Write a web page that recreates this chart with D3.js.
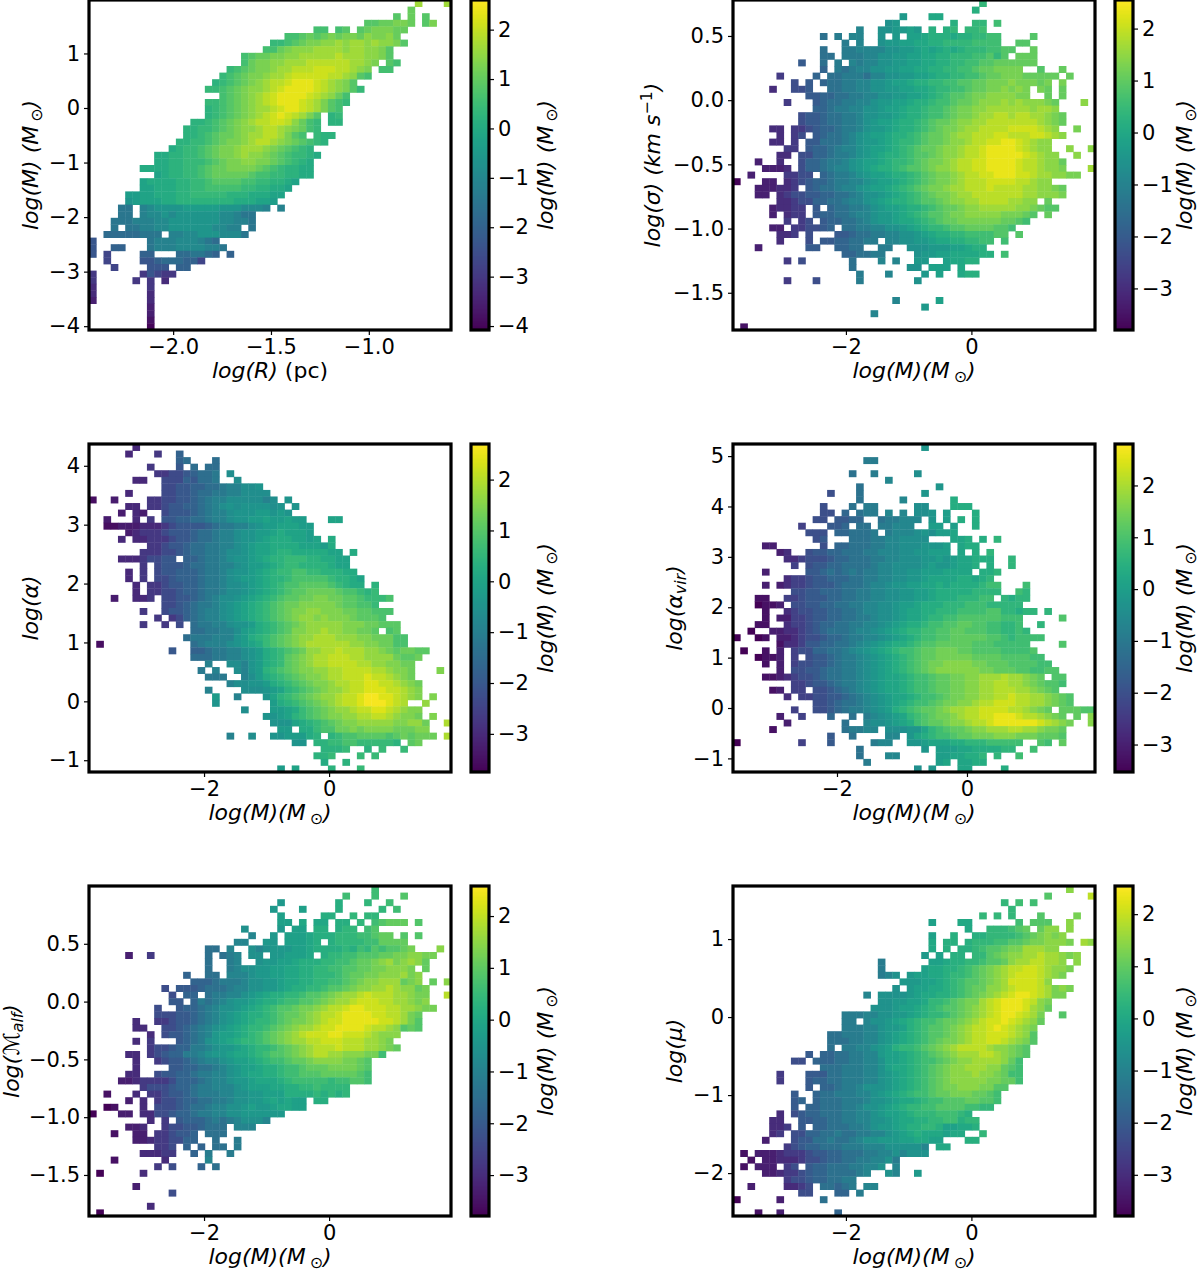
<!DOCTYPE html>
<html><head><meta charset="utf-8">
<script src="https://cdn.jsdelivr.net/npm/d3@7/dist/d3.min.js"></script>
<style>html,body{margin:0;background:#fff}svg{display:block}text{font-family:"DejaVu Sans";fill:#000}</style>
</head><body><svg id="c" width="1200" height="1271"></svg>
<script>
// Letter -> log value of a bin, as read against the colour bars
const levelLetters = "abcdefghijklmnopqrstuvwxyzAB";
const levelValues = [-4,-3.75,-3.5,-3.25,-3,-2.7,-2.3,-2,-1.75,-1.45,-1.15,-0.9,-0.6,-0.4,-0.2,0,0.2,0.4,0.6,0.85,1.05,1.25,1.45,1.65,1.9,2.1,2.35,2.6];

// Every row (top to bottom) lists "firstColumn:binLetters" runs.
const rowsRadiusMass = [
"45:x 49:x","44:u","42:t 44:u 46:t","38:ttuuvvu 46:tv","31:ss 34:st 37:tuvvvuu","27:sstutuvuvvuwvvwu","25:rrstuvvwwxwxxwxwwvt","24:ssuvwwwxxxxwxxwwvt","21:stuuvvwwxxxxxyxxxwwvt","21:suvvwwxxxyyyyyyxxwv 41:ts",
"19:rstuvvwxxyyyzzzyyxwv 40:ss","18:rstuvvwxxyzzzzzyyxwts","17:qrstuvwxyyzAAAzyxwvt","16:rr 18:stuvwwxyzAAAAzyxwvt 37:r","18:stuvwxyzAAAAzyxwus","16:rrstuvwxyzAAAzyxvtsr","16:qrstuvwxxyzAAzyxvts","16:qrstuvwxyzAzyxvt 33:qr","14:qqrstuvwxyyzzywusr 33:qq","13:qqrrstuvwwxyyxwvusr",
"13:qqrstuuvwxxyyxvts 31:rqq","12:qqrrstuvvwxyyxwvutsrq","11:pqrrstuvvwxxxwvutsrq","9:ppqqrrstuvvwxwwvutsrrqp","9:ppqqrrrstuvvwwvvutsrqp","7:ppppqqrrstuuvvvvutsrqqpp","9:opqqrrstuuuuutssrrqqpp","7:oppppqqrrsttttssrrqqpo","7:oopppqqrrsssssrrqqppo","5:nnoopppqqrrrrrqqqpppoo",
"5:mnoooppqqqqqqqqpppoon","4:jj 7:klmmmmnnnnnmmmlllk 26:k","4:jj 7:kllmlmmmmmmllkjj","3:jjjkkkllmmmmmmmllkkj","3:j 5:jjkkllmmmmmmllkk 22:j","2:iiiiijjj 11:kkllmmmlllj","0:g 8:jkkklllkji","0:g 3:hh 8:jkkkllllkkj","0:g 2:f 7:hh 12:iijjih 19:h","2:f 7:gghiiihhf",
"3:f 8:ggg 12:hh","0:e 7:egfee","0:e 6:e 8:e 10:d","0:d 8:e","0:d 8:d","0:c 8:d","8:c","8:c","8:b","8:a"];

const rowsMassSigma = [
"34:r","33:q","23:n 27:pp","21:mn 30:q 33:rr 36:s","17:l 20:mmnnon 27:q 29:qr 32:rrs","12:j 14:k 16:ll 20:m 22:n 24:oopqqqpqqrrss 41:t","15:k 17:l 20:mnnooppqqrrrrssss 39:tt","12:j 15:kkllllmmnnopopqpqrrrsstt 41:u","12:jj 15:kkkllmmnnooppqqrrrsstrt 39:uuu","9:h 12:j 14:k 16:lkllmmnnooppqqrrssttuuuuuu",
"12:i 14:kjkllmmnnooppqqrrsstuuvvvv 42:t 45:u","6:f 11:i 13:jjkkkjllmmnnoopqqrrsstuuvvvuuuuu 46:u","8:g 10:h 12:ijjkkllmmnoopqqrrssttuuvvvwvvvuv 45:v","5:e 8:ggh 13:jjkkllmmnnooppqrrsstuuvvwvwv 42:vu 45:u","10:hhiijjkkllmmnnoopqrsttuvvwwwwvv 43:u 45:u","7:f 11:hijjkkllmnnoopqqrsstuuvwwwxwxwwwvu 48:w","11:iijkkllmmnoopqqrsstuvvwwxxxxxxwxxw","9:ghhijjkklmmnnopqqrsstuvvwxxyyxyyxxwvu","9:ghhijjkklmnoopqqrstuuvwwxxyyyyyyyxwvu","5:ee 8:ffghiijkklmnnopqqrstuvvwxxyyyyzzzzyxw 47:v",
"6:e 8:fg 11:hijjklmnoopqqrstuuvwxxyyyzzyyyzzyxw","5:ee 8:f 10:hhjjjklmnnopqrrstuuvwwxyyzzAAzyxww","7:ff 10:hiijkllmnoopqrstuuvwwxyyzAAAAzyxww 46:w 49:w","6:ee 9:ggiijkklmnopqqrsttuvwwxyyzAAAAAzyxww 47:w","3:d 6:e 9:giijkklmnoopqrrstuvvwxyyzzAAAAzyyxwwu","4:ddde 9:giijkllmnopqqrsttuvwwxyyzzAAAAzyyxwwv 49:x","2:d 7:ffgg 12:ijkklmnoopqqrstuvvwxyyzzAAAzzyxxwwvv","0:b 4:dd 7:efghiijkkllmnoopqrstuvvwxyyyzzzzyyxww","3:ddd 6:ee 8:f 10:hijjkllmnoopqrstuvvwxxyyyzyyyyxxwwvu","3:dd 6:efgghhiijjklmmnopqrstuvvwxxyyyyyyyxxwww 45:v",
"6:eefggiijjkllmnopqqrsttuvwwxxyyyyxxww 43:u","5:deeff 11:h 13:ijjkklmnoopqqrstuuvwwxxxxxwwvu 43:tt","5:d 7:eff 11:hiijjkllmnnopqrsttuvvwwwwwvvvut 43:u","7:f 9:fg 12:hiijjklmnnoppqrstuuvvvvvvuuts","5:dd 8:ffggh 13:i 15:jjkkllmmnopqrrsttuuuutts","6:eef 10:g 14:hhijjkkllmmnopqqrrsssstt 39:t","6:e 10:g 12:hhiijjkk 21:llmmnnoppqqrrss 37:s","3:d 10:hh 14:iijj 20:kk 24:mmmnnnoopqq","15:iijjkk 25:mnnooppppqq 37:s","7:f 9:g 16:j 20:l 22:l 25:nn 29:oppqq",
"16:j 24:mm 27:ooo 31:p","17:k 21:l 26:n 28:o 31:pqq","7:f 11:g 17:k 25:m","","","22:l 28:o","26:n","19:l","","1:c"];

const rowsMassAlpha = [
"6:e","5:e 9:f 12:i","12:ij 17:j","8:f 12:h 14:j 16:jj","9:ffgghijjk 19:m","6:ee 10:gggihjjk 20:m","10:gghhiijjkllmmn","5:e 10:gghhijjkkllmmmm","0:c 3:d 8:ffgghhijkllmmmmmlm 27:n","5:ee 8:ffghhiijklmnmnnnnmn 28:n",
"4:d 6:ed 10:ghhhijkllmnnnoonon","2:d 6:e 8:f 10:hhiijjkllmnnoopoopoo 33:pp","2:ccdddeeefghhhhijkkllmnoopppoo","5:defffghhhijjkllmnnoopqpppo","4:e 6:eefffghhijjkllmnnopqqqppop 33:q","8:ffghhijjkkllmnoppqqqqpppoq","7:fffgghijjkklmmnoppqrrqqqqqpp 36:q","4:eee 7:fgg 10:hh 13:iijkklmnnopqrrsssrrqqpp","7:f 9:ghhhijjkkllmnoopqrssrrrrqpp","5:e 7:f 9:ghhiiijkklmnnopqrssttssrrrqq",
"5:e 7:f 9:gghiiijkklmnoopqrrstttttsrrqp","6:e 8:ffghhiijkklmmnopqrsttuuuutsrqq 39:r","6:e 8:ff 10:gghiijkklmmnopqrstuuvvvvuttsrs","3:d 6:eef 10:gghhijklmmnopqrstuuvvwwvvuutssst","10:gghijkklmnopqrstuvvwwwwwvuutts","7:f 10:ghhijkllmnopqrstuvwwxxwwwvvuuttt","9:f 11:fgijkllmnopqrstuvwxxwxwwwvuuut","7:f 10:f 12:g 14:jkkllmnnoqrstuvwxxxxxwwwvvuuu","14:jjkkllmopqrstuwwxxyxxwwvvu 41:tu","13:jkkklllnoqrstuvwxxyyyxxxwwvvvtt",
"1:c 14:jklllmnopqstuvwxyyyyyyxxwwvvtt","11:h 14:iijkkllmnoqrstuvxxyyzyyyxxwvuvvuu","14:jjjkkllmnoqrsuvwxyyzzzyyxxxxvuuv","16:l 19:mmlnoqrsuvwxyyzzzzyyxxwwvv","15:k 17:l 20:ml 22:norstuvwwxxyyzzzzyyxwwv 48:w","16:kkk 21:lmoqrstuvwwxyyzzzAzzyxwv","19:lmmnnoqrstuvwwxyyzzAAzzyxwv","16:l 21:mmmnoprstuvwxxyzzAAAzzyxw","17:o 20:l 24:nprstuvwxxyzzABBAAzyxw 47:w","17:n 25:oqrstuvwxyzzABBBAzy 46:x",
"21:m 25:oopqstuvwxxyzzAAzyxww","24:n 25:noprstuvwwxxyyzzyxwwv 47:w","25:nnnpqrstuvwwxxxxxwwxxv 49:y","26:oo 29:qqsttvvwvwwwwvvvww","19:l 22:m 25:nnoooqr 33:rsttuuuutuvuvvv 49:y","28:nn 31:rrssttsssssr 44:uv","32:rrrs 38:r 40:s 43:s","31:rrs 37:s 39:s","32:q 35:r","26:o 28:p 33:r 37:s"];

const rowsMassVirial = [
"26:o","","18:ll","","16:k 19:l 25:n","21:m","17:k 28:o","13:h 17:k 26:o","17:k 23:m 30:r","12:h 16:k 18:ll 25:nn 30:rrr",
"12:hh 15:j 17:kll 21:m 23:m 25:nno 29:p 33:r","11:hh 14:iijj 20:kllmmm 27:o 29:p 31:r 33:r","9:g 13:iij 17:kk 20:llmmm 27:pp 30:p 33:r","10:hhh 14:jjkkkl 21:lmmmnon 28:ppq","11:hi 16:kkkllmmnnnn 30:qqr 34:r 36:s","4:ee 12:h 14:jjkkkllmmnnnooop 31:qrr","6:ef 10:hiijjkkkllmmmnnooppp 31:q 33:r 35:s","7:ffghhhijjkkkllmmnnnoopopqqrr 35:r 38:s","8:g 10:hiijjkkkklmmnnnnopoopqqr 35:r 38:s","4:e 10:iijkjklkllmmnnoopppqqqq 34:rrs",
"7:fgghiijjjkkllmmnnoopqqqqrrqrs","4:e 6:efgghiiijkkklmmnooppqqrqrrrrstt 40:t","8:hhiijjjkkllmmnnooppqrrrrrssss 39:ts","3:dd 7:gg 9:hiiijjkkllmmnnooppqrrrssstt 37:srs 40:s","3:cdde 8:hhiijjkkllmmnnoppqrrrssstttsssss","4:d 7:fghhiijjkklmmnnopqqrrsssttttuussrss 43:s","4:d 6:eegghiijjkkllmnnopqqrssttuuuuuuttt 45:u","3:dd 7:fgghijjkkllmmnopqrrsttuuvvuuttsst 42:s","2:c 5:eeffghijkkklmmnopqrssttuuvvuuuttssts","0:b 3:cd 6:eefghhijjkllmmnopqrsttuuvvvvvuutstttt",
"6:dffgiijjkklmnopqrrstuuvvvvvuuuttttt 45:u","1:c 4:d 6:e 8:ghhjjkklmnopqrsttuvvwwwvvuuuuttttu","3:cdde 8:g 10:hiijkllmnopqrstuvvwwwwwvvvvuuuutt","4:d 6:e 8:ghhiijkllmnopqrstuvwwxxxxwwvvvuuuutt","6:e 8:hhiijkkllmnopqrstuvwxxxxxxwwvvvuuttuu","4:dde 7:fghhijkkllmnopqqrsttuvvwwxxyyyzyyxwv 44:uu","8:gghiijkllmnopqqrsttuvvwwxxyyzzyyxwvu 44:ut","5:de 8:gg 11:hhijklmnopqqrsttuvvwwxxyyzzzyyxwvu","7:f 9:gg 11:hhiijklmnopqqrsttuvwwxxyyzzAzzyyxwvu","11:hhijkklmnopqrsttuvwwxxyzzAAAzzyyxwvu",
"8:g 11:hhijkllmnoprstuvvwxyyzzAAAAzzyxwv 45:vvvuu","6:e 9:g 13:j 16:k 18:lmnopqstuvwwxyzzAABBBAzzyxwv 47:v 49:x","7:e 15:k 18:mnnopqrtuvvwxxyzzABBBBBBAzyxw 49:x","5:d 15:kllmm 21:nnnooqstuvvwxxyyyzzyyxwwv","13:i 16:k 21:mm 24:oqrsttuvvwwwxxxwwwvvvu","0:b 9:g 13:i 19:lmm 24:oopqqqrrsssttttt 42:ut 45:v","17:k 26:o 28:pppqqrrrrss 41:t","17:k 21:mm 28:ppqqrrs 36:s 39:t","18:l 28:pq 31:qqrr","25:n 27:o 31:qq 37:r"];

const rowsMassMach = [
"39:s","35:s 39:s 43:t","26:n 34:q 38:r 41:s","25:n 29:o 34:q 40:r 42:s","26:o 32:qq 36:r 38:rr","26:oo 29:p 31:pp 34:qq 37:r 39:stuuu 45:t","21:m 26:n 28:oo 31:qq 34:qrr 38:st","22:l 25:n 27:ooopqqq 34:rrrsstuu 43:t 45:t","20:ll 24:nn 27:ooopq 33:qrrrrssuuuu","16:jj 19:l 22:mlmnnnoopqqqqrqsrtsttuv 48:w",
"5:d 8:f 16:j 18:jkl 22:mm 25:nnooop 32:qrrsstttuuvvwwvv","16:j 19:kl 23:mnnoopqqqrrsstuuvwxvwx 45:wu","16:j 19:klmmnnooppqqrrssttuuvvwwwv 46:u","13:i 16:jj 19:lllmnnooppqqrrrstuuvvwwwxvw","14:iiijkkklmmnnoppqqrrsstuvwwxxxuvw 47:u 49:w","10:g 12:hhhijjjkllmmnnopqqrrsttuvwwxxyxwwuv","11:g 13:ii 16:jkkllmnopqqrrsttuvwxxyzyyyxxwvv 49:y","11:hh 14:ikjklmnnopqqrssttuvwxxyzzzyyxxwvw","9:g 12:hiijklmmnopqrsttuvvwxyyzAAzzzyyxxwvv","9:ggghhijklmnopqqrstuuvwxyyzAAAAzzyyxvu",
"6:e 9:ffghhijklmnopqrrstuvvwxyzzAAAAAzzyxvt","6:ee 10:gghijklmnopqrrstuvwxxyzzAAAAzyyxwtut","8:e 10:ghhijklnoopqrstuvwxyzzzAAzzzyxwww","6:e 8:f 12:hijkmnopqrrstuvwxxyyzzzyyyxxwv","8:fgghiikklmnnopqrrstuvwxyyyzyyyxxwvu","5:ee 8:fghiikklmnnoppqrsttuvwxyyxxwwwvvs","6:e 9:fghhijkllmnoopqrsstuuvwwwwvvut","6:e 11:hhiijjklmnoopqqrsstuuuvvvvut","5:ee 9:ghhiijkkllmnoppqqrsstttuuuuuts","4:ddef 8:fffgiiijkllmnnopppqrsssssrsstts",
"7:fggghiijkklllmnoooppqqrrsrrrr","2:c 6:e 8:ffghhijkkkllmmnnoooqqqqrqrqr","5:d 7:e 9:fgghiijjkklmmnnopopoo 31:qq","2:bc 7:e 9:ggghijjkllmmnonnoppoo","0:b 4:dd 7:eegghiijkkllmmnnnnnn","8:e 10:f 12:h 13:iiijkjklmmml","5:dde 10:fgghhijjj 20:lll","3:c 6:dd 9:ffghhi 16:jjj","6:ddeffggii 17:j 20:k","9:ffg 13:i 15:i 17:jj 20:k",
"7:eeeff 14:i 16:k 19:k","3:c 10:e 16:l","9:f 11:g 15:i 17:j","1:b 7:e","","6:d","11:g","","8:e","1:b"];

const rowsMassMu = [
"46:w","43:t 49:y","37:r 39:s 41:s","38:r","34:r 36:r 38:r 42:t 47:v","27:o 31:pp 39:s 41:ttt 46:w","32:p 35:rrrs 39:tu 42:uww 46:w","27:o 30:q 33:qqrrrrstuvwvw","27:p 29:qq 32:qrrrssttuvvwwwv 48:xw","27:p 29:q 31:qqrsttuvvxxxww",
"26:n 28:o 30:qq 33:rrtuvwwxxyxxwvw","20:k 27:oopqqrrsttuwxxyyxxw 47:w","20:k 26:oppqqrstuvwxyyzzyxwwv","20:klm 24:nooppqrrstuvwxyzzzyxwv","23:nnnoopqrsttuvwxzzzzyw","22:m 24:nooppqrstuuwwxyzzzyxvwv","18:l 20:mmmmnoppqqrstuvwxyzAAzyxvv","20:mmnnooprrstuvvxyzAAAzywv","19:mmmnoopqrsttuvwxyzAAAzxwu","15:kkkllmmnnopqrrstuvwxyzAAzyxv 45:t",
"15:kk 18:lmmnopqrsstuuvwxyzzAzyxwu","15:kkkllmnnoqrsttuvwxyyzAzyxwv","13:jjkkkllmnopqrsttuvwxyyzzzyxwt","13:jjjkkllmnopqrstuvvwxyyzzyxwvt","13:j 15:kkllmnoqrrstuvwxyyyyxwwvut","10:h 12:iijjkkllnoopqrstuvwxxxyyxwvut","8:gg 11:i 12:iijjkkllmoopqrsstuvwwxxxxwus","12:jjjkkkllmoppqrstuvwwxxxwwuts","6:f 10:hhhjjkkkllmnopqrstuvwwwxwwvuss","6:f 10:hiijjkkkllmnopqrstuvwwwwwvvuus",
"10:h 12:iijkklmmmnopqrstuvvwwwvvtt","8:h 11:ijjkkkllmnopqrsstuuvvvuuts","8:hi 11:ijjjkkklmmnoppqrsstttuutts","8:h 10:iijjjkklmmnopqrrssttttssrr","6:e 8:ghiijjjkkllmnoopqrrrsssrq","5:ee 9:hhiijjkkllmmnoppqqrrssqrr","5:eef 9:h 11:iijjjkklmnnopqqrrqoopp 33:q","5:ef 8:ggiijjkjjkkllmnopqpppopp 34:r","4:d 8:ghhjjkjjklmmnnnooppoo 32:qq","7:fghiijjjkkklllmmmmml 28:pp",
"1:c 3:dddefffghhiijjjkkllmlmmm","2:c 4:ddeeefgghiijjkkllmk","1:c 3:ddd 7:fg 10:hiijjjkkllm 22:l","4:dde 7:ffghiijjjjkl 21:ml 25:n","7:fgg 10:hiijjkk","2:d 7:eefg 12:jjijk 18:ll","9:gg 14:ii 17:k","0:b 6:d 12:j","","3:c 6:d 14:i"];

// Axis limits and tick labels
const xTicksRadius = [-2,-1.5,-1], xTicksMass = [-2,0];
const colorTicks1 = [-4,-3,-2,-1,0,1,2], colorTicksRest = [-3,-2,-1,0,1,2];
const panelRows = [rowsRadiusMass,rowsMassSigma,rowsMassAlpha,rowsMassVirial,rowsMassMach,rowsMassMu];
const xDomains = [[-2.43,-0.58],[-3.8,1.97],[-3.84,1.95],[-3.6,1.97],[-3.84,1.95],[-3.8,1.97]];
const yDomains = [[-4.07,1.98],[-1.79,0.78],[-1.2,4.37],[-1.27,5.24],[-1.855,1.0],[-2.55,1.68]];
const colorDomains = [[-4.08,2.6],[-3.8,2.55],[-3.75,2.7],[-3.53,2.8],[-3.79,2.58],[-3.79,2.54]];
const yTickLists = [[-4,-3,-2,-1,0,1],[-1.5,-1,-0.5,0,0.5],[-1,0,1,2,3,4],[-1,0,1,2,3,4,5],[-1.5,-1,-0.5,0,0.5],[-2,-1,0,1]];
const xTickLists = [xTicksRadius,xTicksMass,xTicksMass,xTicksMass,xTicksMass,xTicksMass];
const colorTickLists = [colorTicks1,colorTicksRest,colorTicksRest,colorTicksRest,colorTicksRest,colorTicksRest];
const massLabel = [["log(M)(M",1],["\u2299",0,"sub"],[")",1]];
const massLabelSpaced = [["log(M) (M",1],["\u2299",0,"sub"],[")",1]];
const xLabelParts = [[["log(R)",1],[" (pc)",0]],massLabel,massLabel,massLabel,massLabel,massLabel];
const yLabelParts = [
 massLabelSpaced,
 [["log(\u03C3) (km s",1],["\u22121",0,"sup"],[")",1]],
 [["log(\u03B1)",1]],
 [["log(\u03B1",1],["vir",1,"sub"],[")",1]],
 [["log(\u2133",1],["alf",1,"sub"],[")",1]],
 [["log(\u03BC)",1]]];
const fmtTickOneDecimal = [false,true,false,false,true,false];
const xOneDecimal = [true,false,false,false,false,false];
const yLabelBase = [38,660,38,682,19,682];
const cbLabelBase = [553,1192,553,1192,553,1192];
const colLeft = [89,733], rowTop = [0,444,886], rowBottom = [330,772,1216];
const plotW = 362, cbGap = 20, cbW = 18, nBins = 50, tickFont = 21, labelFont = 22;

const svg = d3.select("#c");
const cmap = d3.interpolateViridis;
const valueOf = d3.scaleOrdinal(levelLetters.split(""), levelValues);
function parseRow(str, r){
  const out=[];
  str.split(" ").filter(Boolean).forEach(run=>{
    const [c,letters]=run.split(":");
    letters.split("").forEach((ch,i)=>out.push({col:+c+i,row:r,v:valueOf(ch)}));
  });
  return out;
}
function addParts(t, parts, size){
  let prev=0;
  parts.forEach(p=>{
    const shift=p[2]==="sup"?-8:p[2]==="sub"?4:0;
    const s=t.append("tspan").text(p[0]).attr("font-style",p[1]?"italic":"normal")
      .attr("font-size",shift?size*0.72:size).attr("dy",shift-prev);
    if(p[0]==="\u2299") s.attr("dx",4);
    prev=shift;
  });
}
panelRows.forEach((rows,k)=>{
  const left=colLeft[k%2], top=rowTop[Math.floor(k/2)], bottom=rowBottom[Math.floor(k/2)], right=left+plotW;
  const x=d3.scaleLinear().domain(xDomains[k]).range([left,right]);
  const y=d3.scaleLinear().domain(yDomains[k]).range([bottom,top]);
  const bx=d3.scaleBand().domain(d3.range(nBins)).range([left,right]);
  const by=d3.scaleBand().domain(d3.range(nBins)).range([top,bottom]);
  const color=d3.scaleSequential(cmap).domain(colorDomains[k]);
  const cells=rows.flatMap(parseRow);
  svg.append("g").selectAll("rect").data(cells).join("rect")
    .attr("x",d=>bx(d.col)).attr("y",d=>by(d.row))
    .attr("width",bx.bandwidth()+0.4).attr("height",by.bandwidth()+0.4)
    .attr("fill",d=>color(d.v));
  const ax=svg.append("g").attr("transform",`translate(0,${bottom})`)
    .call(d3.axisBottom(x).tickValues(xTickLists[k]).tickSize(5).tickPadding(4)
      .tickFormat(d3.format(xOneDecimal[k]?".1f":"d")));
  const ay=svg.append("g").attr("transform",`translate(${left},0)`)
    .call(d3.axisLeft(y).tickValues(yTickLists[k]).tickSize(5).tickPadding(4)
      .tickFormat(d3.format(fmtTickOneDecimal[k]?".1f":"d")));
  [ax,ay].forEach(g=>{g.select(".domain").remove();
    g.selectAll("text").attr("font-size",tickFont).attr("font-family","DejaVu Sans");
    g.selectAll("line").attr("stroke","#000").attr("stroke-width",1.2);});
  svg.append("rect").attr("x",left).attr("y",top).attr("width",plotW).attr("height",bottom-top)
    .attr("fill","none").attr("stroke","#000").attr("stroke-width",3.2);
  // axis titles
  const xt=svg.append("text").attr("x",(left+right)/2).attr("y",bottom+48).attr("text-anchor","middle");
  addParts(xt,xLabelParts[k],labelFont);
  const yt=svg.append("text").attr("text-anchor","middle")
    .attr("transform",`translate(${yLabelBase[k]},${(top+bottom)/2}) rotate(-90)`);
  addParts(yt,yLabelParts[k],labelFont);
  // colour bar
  const cbL=right+cbGap;
  const cy=d3.scaleLinear().domain(colorDomains[k]).range([bottom,top]);
  const stops=d3.range(256).map(i=>colorDomains[k][0]+(colorDomains[k][1]-colorDomains[k][0])*i/255);
  const h=(bottom-top)/256;
  svg.append("g").attr("shape-rendering","crispEdges").selectAll("rect").data(stops).join("rect")
    .attr("x",cbL).attr("width",cbW).attr("y",d=>cy(d)-h).attr("height",h+1).attr("fill",d=>color(d));
  const ac=svg.append("g").attr("transform",`translate(${cbL+cbW},0)`)
    .call(d3.axisRight(cy).tickValues(colorTickLists[k]).tickSize(5).tickPadding(4).tickFormat(d3.format("d")));
  ac.select(".domain").remove();
  ac.selectAll("text").attr("font-size",tickFont).attr("font-family","DejaVu Sans");
  ac.selectAll("line").attr("stroke","#000").attr("stroke-width",1.2);
  svg.append("rect").attr("x",cbL).attr("y",top).attr("width",cbW).attr("height",bottom-top)
    .attr("fill","none").attr("stroke","#000").attr("stroke-width",3.2);
  const ct=svg.append("text").attr("text-anchor","middle")
    .attr("transform",`translate(${cbLabelBase[k]},${(top+bottom)/2}) rotate(-90)`);
  addParts(ct,massLabelSpaced,labelFont);
});
</script></body></html>
